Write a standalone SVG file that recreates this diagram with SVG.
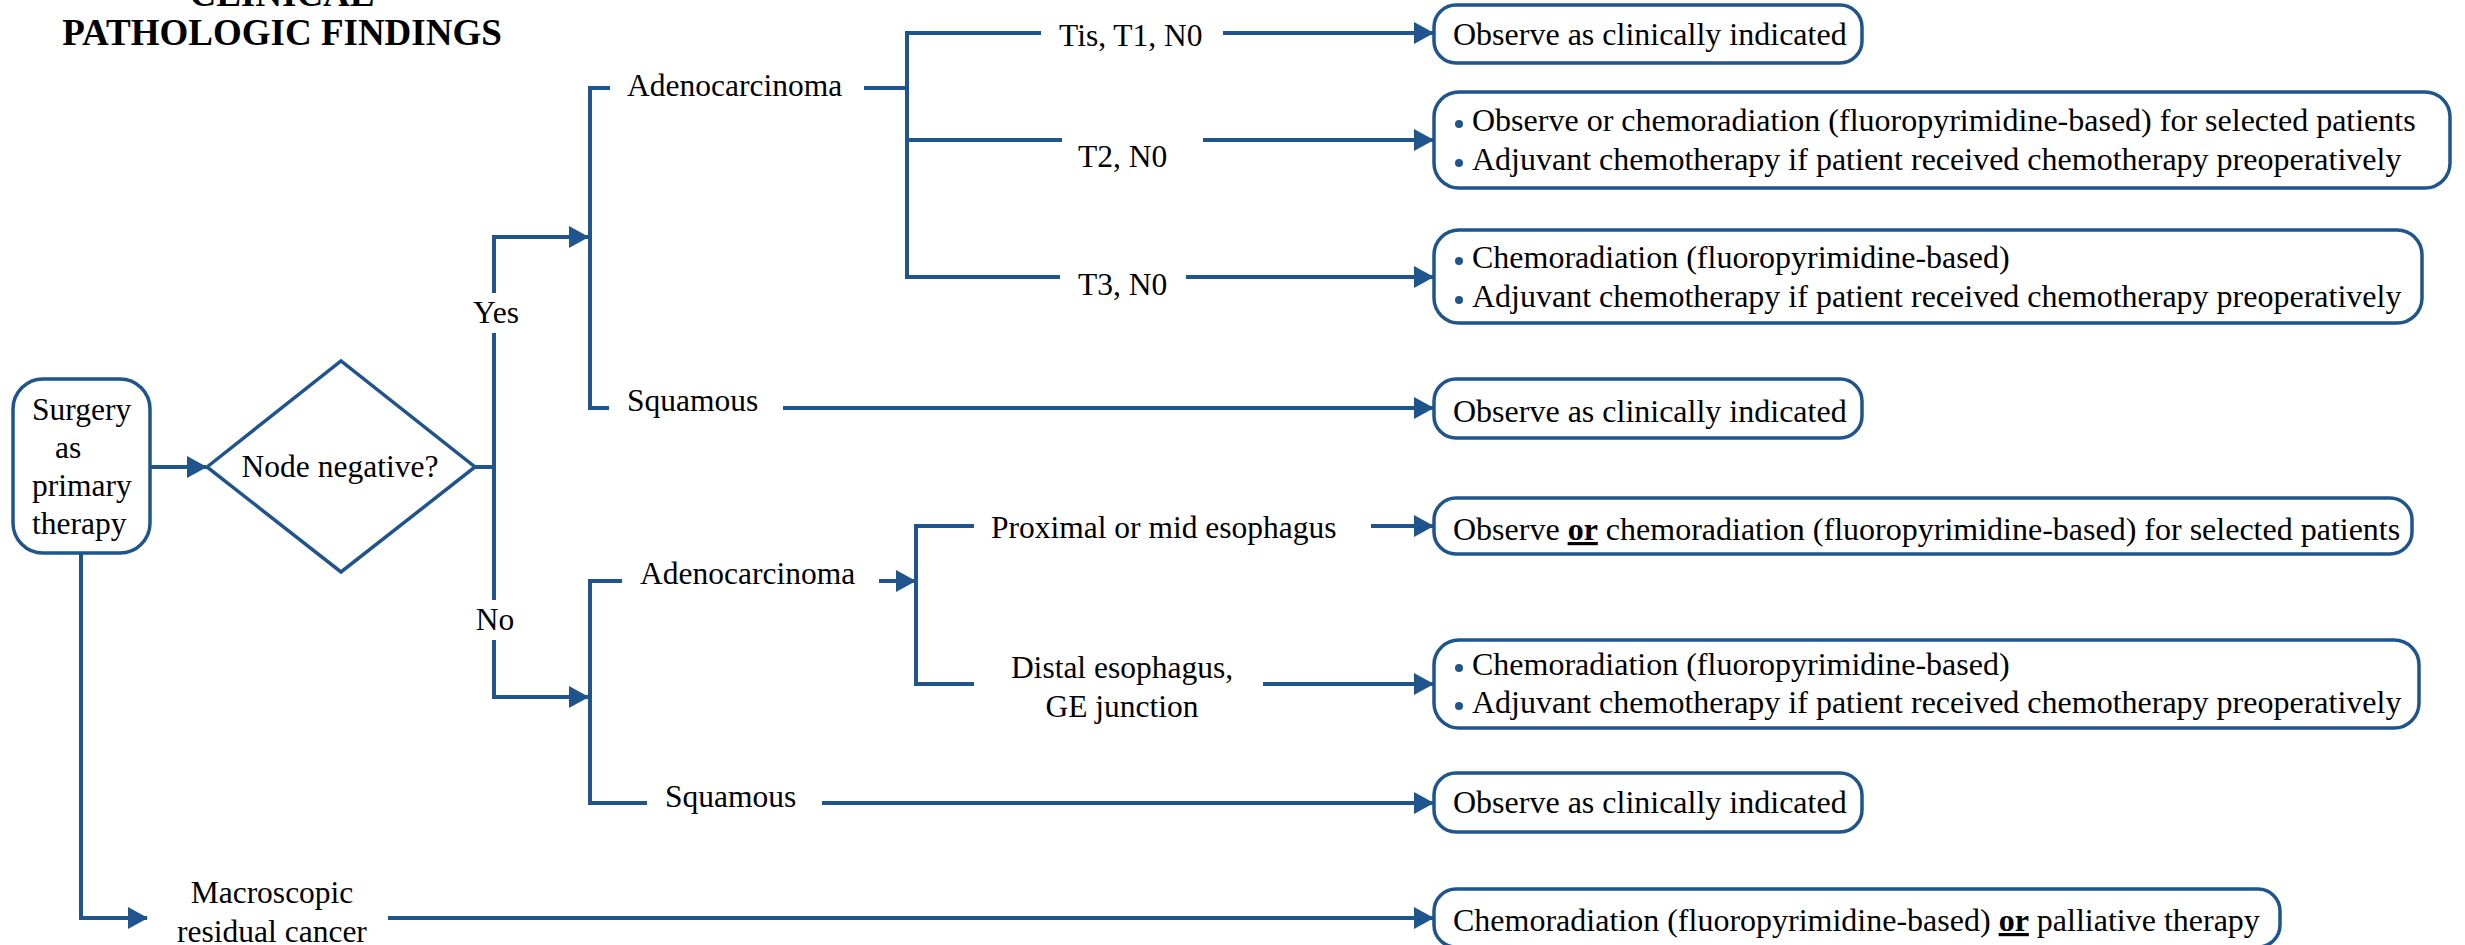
<svg xmlns="http://www.w3.org/2000/svg" width="2465" height="945" viewBox="0 0 2465 945">
<defs>
<style>
text{font-family:"Liberation Serif","Times New Roman",serif;fill:#000;}
.lbl{font-size:31.5px;}
.bx{font-size:32px;}
.ttl{font-size:37px;font-weight:bold;}
.box{fill:#fff;stroke:#1f548c;stroke-width:3.5;}
.ln{fill:none;stroke:#1f548c;stroke-width:4;}
.dot{fill:#1f548c;}
.u{font-weight:bold;text-decoration:underline;}
</style>
<marker id="ah" markerUnits="userSpaceOnUse" markerWidth="20" markerHeight="22" refX="19" refY="11" orient="auto">
<path d="M0,0 L20,11 L0,22 z" fill="#1f548c"/>
</marker>
</defs>
<rect width="2465" height="945" fill="#fff"/>

<g id="title">
<text class="ttl" x="282" y="6" text-anchor="middle">CLINICAL</text>
<text class="ttl" x="282" y="45" text-anchor="middle">PATHOLOGIC FINDINGS</text>
</g>

<g id="connectors">
<!-- surgery to diamond -->
<path class="ln" d="M150,467 L206,467" marker-end="url(#ah)"/>
<!-- diamond to split -->
<path class="ln" d="M475,467 L494,467"/>
<path class="ln" d="M494,467 L494,333"/>
<path class="ln" d="M494,293 L494,237 L588,237" marker-end="url(#ah)"/>
<path class="ln" d="M494,467 L494,600"/>
<path class="ln" d="M494,640 L494,697 L588,697" marker-end="url(#ah)"/>
<!-- yes bracket -->
<path class="ln" d="M610,88 L590,88 L590,408 L609,408"/>
<path class="ln" d="M864,88 L907,88"/>
<path class="ln" d="M1041,33 L907,33 L907,277 L1060,277"/>
<path class="ln" d="M907,140 L1062,140"/>
<path class="ln" d="M1223,33 L1433,33" marker-end="url(#ah)"/>
<path class="ln" d="M1203,140 L1433,140" marker-end="url(#ah)"/>
<path class="ln" d="M1186,277 L1433,277" marker-end="url(#ah)"/>
<path class="ln" d="M783,408 L1433,408" marker-end="url(#ah)"/>
<!-- no bracket -->
<path class="ln" d="M622,581 L590,581 L590,803 L647,803"/>
<path class="ln" d="M879,581 L915,581" marker-end="url(#ah)"/>
<path class="ln" d="M974,526 L916,526 L916,684 L974,684"/>
<path class="ln" d="M1371,526 L1433,526" marker-end="url(#ah)"/>
<path class="ln" d="M1263,684 L1433,684" marker-end="url(#ah)"/>
<path class="ln" d="M822,803 L1433,803" marker-end="url(#ah)"/>
<!-- macroscopic -->
<path class="ln" d="M81,553 L81,918 L147,918" marker-end="url(#ah)"/>
<path class="ln" d="M388,918 L1433,918" marker-end="url(#ah)"/>
</g>

<g id="labels">
<text class="lbl" x="496" y="323" text-anchor="middle">Yes</text>
<text class="lbl" x="495" y="630" text-anchor="middle">No</text>
<text class="lbl" x="627" y="96">Adenocarcinoma</text>
<text class="lbl" x="627" y="411">Squamous</text>
<text class="lbl" x="1059" y="46">Tis, T1, N0</text>
<text class="lbl" x="1078" y="167">T2, N0</text>
<text class="lbl" x="1078" y="295">T3, N0</text>
<text class="lbl" x="640" y="584">Adenocarcinoma</text>
<text class="lbl" x="665" y="807">Squamous</text>
<text class="lbl" x="991" y="538">Proximal or mid esophagus</text>
<text class="lbl" x="1122" y="678" text-anchor="middle">Distal esophagus,</text>
<text class="lbl" x="1122" y="717" text-anchor="middle">GE junction</text>
<text class="lbl" x="272" y="903" text-anchor="middle">Macroscopic</text>
<text class="lbl" x="272" y="942" text-anchor="middle">residual cancer</text>
</g>

<g id="surgery">
<rect class="box" x="13" y="379" width="137" height="174" rx="30"/>
<text class="lbl" x="32" y="420">Surgery</text>
<text class="lbl" x="55" y="458">as</text>
<text class="lbl" x="32" y="496">primary</text>
<text class="lbl" x="32" y="534">therapy</text>
</g>

<g id="decision">
<polygon class="box" points="207,467 341,361 475,467 341,572"/>
<text class="lbl" x="340" y="477" text-anchor="middle">Node negative?</text>
</g>

<g id="box-tis">
<rect class="box" x="1434" y="5" width="428" height="58" rx="22"/>
<text class="bx" x="1453" y="45">Observe as clinically indicated</text>
</g>

<g id="box-t2">
<rect class="box" x="1434" y="92" width="1016" height="96" rx="25"/>
<circle class="dot" cx="1459" cy="124" r="4"/>
<text class="bx" x="1472" y="131">Observe or chemoradiation (fluoropyrimidine-based) for selected patients</text>
<circle class="dot" cx="1459" cy="163" r="4"/>
<text class="bx" x="1472" y="170">Adjuvant chemotherapy if patient received chemotherapy preoperatively</text>
</g>

<g id="box-t3">
<rect class="box" x="1434" y="230" width="988" height="93" rx="25"/>
<circle class="dot" cx="1459" cy="261" r="4"/>
<text class="bx" x="1472" y="268">Chemoradiation (fluoropyrimidine-based)</text>
<circle class="dot" cx="1459" cy="300" r="4"/>
<text class="bx" x="1472" y="307">Adjuvant chemotherapy if patient received chemotherapy preoperatively</text>
</g>

<g id="box-squamous-yes">
<rect class="box" x="1434" y="379" width="428" height="59" rx="22"/>
<text class="bx" x="1453" y="422">Observe as clinically indicated</text>
</g>

<g id="box-proximal">
<rect class="box" x="1434" y="498" width="978" height="56" rx="22"/>
<text class="bx" x="1453" y="540">Observe <tspan class="u">or</tspan> chemoradiation (fluoropyrimidine-based) for selected patients</text>
</g>

<g id="box-distal">
<rect class="box" x="1434" y="640" width="985" height="88" rx="25"/>
<circle class="dot" cx="1459" cy="668" r="4"/>
<text class="bx" x="1472" y="675">Chemoradiation (fluoropyrimidine-based)</text>
<circle class="dot" cx="1459" cy="706" r="4"/>
<text class="bx" x="1472" y="713">Adjuvant chemotherapy if patient received chemotherapy preoperatively</text>
</g>

<g id="box-squamous-no">
<rect class="box" x="1434" y="773" width="428" height="59" rx="22"/>
<text class="bx" x="1453" y="813">Observe as clinically indicated</text>
</g>

<g id="box-macro">
<rect class="box" x="1434" y="889" width="846" height="58" rx="22"/>
<text class="bx" x="1453" y="931">Chemoradiation (fluoropyrimidine-based) <tspan class="u">or</tspan> palliative therapy</text>
</g>
</svg>
